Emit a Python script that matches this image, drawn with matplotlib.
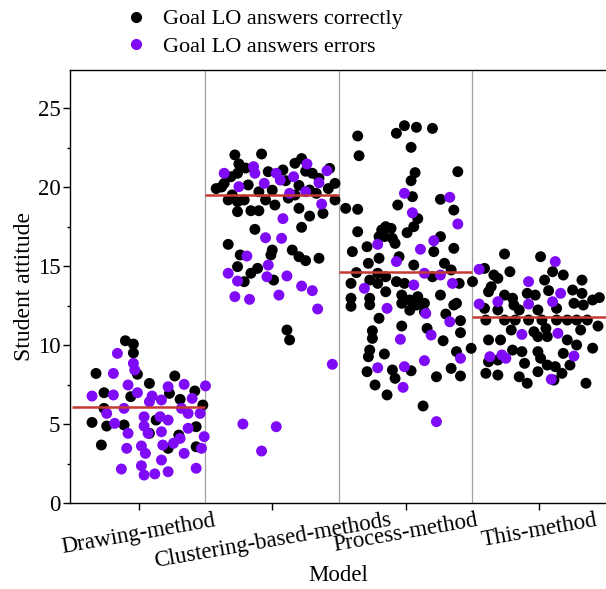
import numpy as np
import matplotlib.pyplot as plt
from matplotlib.lines import Line2D
from matplotlib.ticker import MultipleLocator

plt.rcParams['font.family'] = ['Liberation Serif', 'DejaVu Serif']

models = ["Drawing-method", "Clustering-based-methods", "Process-method", "This-method"]
mean_values = [6.1, 19.5, 14.6, 11.8]

# offsets are the horizontal scatter inside each group
# Drawing-method
draw_ok_x = [-0.10, -0.04, -0.04, -0.32, -0.01, 0.08, 0.27, -0.26, -0.06, 0.23, 0.31, 0.42,
             0.48, -0.26, -0.35, -0.24, -0.11, 0.08, 0.13, -0.28, 0.22, 0.30, 0.43, 0.43]
draw_ok_y = [10.27, 10.06, 9.5, 8.2, 8.15, 7.57, 8.04, 6.98, 6.73, 6.94, 6.56, 7.09,
             6.2, 5.99, 5.1, 4.87, 4.94, 4.41, 5.25, 3.67, 3.46, 4.3, 4.83, 3.56]
draw_err_x = [-0.16, -0.04, -0.03, -0.19, -0.08, -0.01, -0.35, -0.19, 0.10, 0.08, 0.17, 0.22,
              0.34, 0.50, 0.40, 0.32, 0.46, 0.37, -0.11, -0.24, -0.18, 0.04, 0.04, 0.07,
              0.16, 0.22, 0.17, -0.08, -0.09, 0.02, 0.05, 0.18, 0.26, 0.31, 0.37, 0.49,
              0.47, 0.34, -0.13, 0.02, 0.04, 0.12, 0.17, 0.22, 0.43]
draw_err_y = [9.47, 8.84, 8.42, 8.2, 7.47, 6.98, 6.77, 6.84, 6.77, 6.41, 6.52, 7.36,
              7.51, 7.41, 6.62, 5.99, 5.67, 5.67, 5.99, 5.67, 5.04, 5.46, 4.87, 4.41,
              5.46, 5.25, 4.51, 4.41, 3.46, 3.61, 3.14, 3.67, 3.78, 4.09, 4.73, 4.2,
              3.46, 3.14, 2.15, 2.36, 1.77, 1.84, 2.72, 1.98, 2.2]

# Clustering-based-methods
clus_ok_x = [-0.28, -0.08, -0.25, 0.17, 0.22, 0.43, -0.36, -0.31, -0.26, -0.18, -0.03, 0.08,
             0.30, 0.35, 0.47, -0.33, -0.26, -0.21, -0.05, 0.02, 0.17, 0.20, 0.28, 0.47,
             -0.26, -0.16, -0.10, 0.28, 0.38, -0.13, 0.22, -0.33, 0.00, -0.01, 0.15, 0.20,
             0.25, 0.35, -0.24, -0.26, -0.16, -0.11, -0.21, 0.01, 0.11, 0.13,
             -0.38, -0.20, 0.00, 0.10, 0.20, 0.33, 0.42, -0.10, 0.25, -0.30, 0.12, -0.42]
clus_ok_y = [22.03, 22.09, 21.46, 21.5, 21.8, 21.18, 20.23, 20.65, 20.87, 20.13, 20.97, 21.08,
             20.87, 20.55, 20.23, 19.18, 19.07, 19.18, 19.18, 18.86, 19.49, 18.65, 19.81, 19.18,
             18.44, 18.5, 18.5, 18.16, 18.33, 17.32, 17.45, 16.37, 16.01, 15.7, 16.01, 15.59,
             15.34, 15.49, 15.7, 14.96, 14.54, 14.85, 14.01, 14.11, 10.95, 10.32,
             20.0, 21.2, 19.8, 20.4, 20.1, 19.6, 19.9, 19.7, 21.0, 19.5, 19.3, 19.9]
clus_err_x = [-0.36, -0.14, -0.13, -0.06, -0.25, 0.03, 0.06, 0.16, 0.26, 0.41, 0.35, 0.25,
              0.13, 0.37, 0.08, -0.05, 0.07, -0.19, -0.03, -0.33, -0.26, -0.04, 0.11, 0.22,
              0.30, -0.28, -0.17, 0.05, 0.34, 0.45, -0.22, 0.03, -0.08]
clus_err_y = [20.87, 21.29, 20.87, 20.23, 20.02, 20.87, 20.44, 20.65, 21.46, 21.03, 20.27, 19.7,
              19.6, 18.92, 18.0, 16.79, 16.75, 15.63, 15.06, 14.54, 14.05, 14.32, 14.37, 13.73,
              13.44, 13.06, 12.89, 13.16, 12.28, 8.78, 5.0, 4.83, 3.29]

# Process-method
proc_ok_x = [-0.01, 0.08, 0.20, -0.07, -0.36, -0.35, 0.04, 0.39, 0.07, 0.04, 0.05, -0.06,
             -0.45, -0.36, 0.26, 0.36, 0.09, 0.06, 0.01, -0.36, -0.18, -0.15, -0.11, -0.16,
             -0.10, -0.08, -0.20, -0.29, -0.40, 0.21, 0.26, 0.36, -0.20, -0.28, -0.05, 0.06,
             0.29, -0.37, -0.21, -0.15, 0.34, -0.41, -0.27, -0.21, -0.07, -0.01, 0.20, 0.40,
             -0.15, -0.41, -0.27, -0.03, 0.03, 0.09, 0.14, 0.26, 0.38,
             -0.41, -0.27, -0.03, 0.03, 0.08, 0.14, 0.36, -0.20, 0.30, 0.41, -0.03, -0.25,
             -0.25, 0.16, 0.28, 0.41, 0.49, -0.27, -0.28, -0.16, 0.38, -0.29, -0.10, -0.08,
             0.04, 0.34, 0.23, 0.41, -0.23, -0.14, 0.13]
proc_ok_y = [23.88, 23.78, 23.71, 23.4, 23.23, 21.98, 22.51, 20.97, 20.91, 20.4, 19.39, 18.86,
             18.65, 18.59, 19.22, 18.54, 18.0, 17.49, 17.11, 17.17, 17.28, 17.49, 17.38, 16.86,
             16.75, 16.43, 16.86, 16.22, 15.91, 15.91, 16.86, 16.12, 15.49, 15.17, 15.59, 15.06,
             15.17, 14.58, 14.54, 14.32, 14.75, 13.9, 14.11, 13.9, 14.01, 13.9, 14.32, 13.9,
             13.37, 12.96, 12.96, 13.16, 12.85, 13.06, 12.64, 13.16, 12.64,
             12.45, 12.55, 12.64, 12.2, 12.53, 12.1, 12.53, 11.69, 11.96, 11.54, 11.2, 10.9,
             10.42, 11.05, 10.27, 10.78, 9.79, 9.68, 9.26, 9.43, 9.58, 8.31, 8.42, 7.89,
             8.37, 8.52, 7.99, 8.04, 7.47, 6.84, 6.14]
proc_err_x = [-0.01, 0.33, 0.05, 0.39, -0.21, 0.21, 0.11, -0.07, 0.14, 0.26, 0.35, 0.06,
              -0.31, -0.14, 0.15, 0.33, 0.19, -0.04, 0.14, 0.41, -0.21, -0.01, -0.02, 0.23]
proc_err_y = [19.6, 19.35, 18.37, 17.66, 16.37, 16.6, 16.06, 15.28, 14.54, 14.43, 13.9, 13.8,
              13.59, 12.32, 12.0, 11.47, 10.63, 10.36, 9.01, 9.16, 8.56, 8.63, 7.32, 5.15]

# This-method
this_ok_x = [-0.26, 0.01, -0.22, -0.41, -0.34, -0.31, -0.50, 0.10, 0.18, 0.04, 0.32, -0.36,
             -0.38, -0.26, -0.20, -0.09, -0.03, 0.07, 0.25, 0.32, 0.40, -0.41, -0.31, -0.19,
             -0.15, -0.01, 0.13, 0.26, 0.33, -0.40, -0.26, -0.18, -0.08, 0.02, 0.13, 0.21,
             0.28, 0.36, -0.21, -0.04, 0.05, 0.31, -0.38, -0.29, -0.01, 0.06, 0.21, 0.28,
             -0.20, -0.13, -0.01, 0.01, 0.18, -0.38, -0.31, -0.11, 0.06, 0.12, 0.23, -0.40,
             -0.31, -0.15, -0.09, -0.01, 0.17, 0.35, 0.11, 0.44, 0.45, 0.40]
this_ok_y = [15.76, 15.59, 14.64, 14.85, 14.43, 14.22, 14.01, 14.64, 14.43, 14.11, 14.11, 13.69,
             13.37, 13.16, 12.96, 13.27, 13.16, 13.44, 13.48, 13.27, 12.85, 12.32, 12.22, 12.53,
             12.22, 12.22, 12.32, 12.64, 12.53, 11.58, 11.58, 11.58, 11.58, 11.58, 11.58, 11.58,
             11.58, 11.58, 10.95, 10.84, 11.05, 10.95, 10.32, 10.32, 10.53, 10.53, 10.32, 10.0,
             9.68, 9.58, 9.58, 9.16, 9.47, 8.94, 9.05, 8.84, 8.73, 8.63, 8.73, 8.21,
             8.1, 7.99, 7.58, 8.31, 8.21, 7.58, 7.78, 11.2, 13.0, 9.8]
this_err_x = [-0.45, 0.12, -0.08, 0.16, -0.45, -0.31, -0.08, 0.10, -0.13, 0.14, -0.37, -0.28,
              -0.25, 0.26, 0.09]
this_err_y = [14.79, 15.28, 14.01, 13.27, 12.59, 12.74, 12.59, 12.74, 10.67, 10.74, 9.26, 9.37,
              9.16, 9.3, 7.83]

ok_x = [draw_ok_x, clus_ok_x, proc_ok_x, this_ok_x]
ok_y = [draw_ok_y, clus_ok_y, proc_ok_y, this_ok_y]
err_x = [draw_err_x, clus_err_x, proc_err_x, this_err_x]
err_y = [draw_err_y, clus_err_y, proc_err_y, this_err_y]

black = "#000000"
purple = "#7F0AF5"
red = "#C43A32"

fig = plt.figure(figsize=(6.06, 5.89), dpi=100)
ax = fig.add_axes([0.1155, 0.146, 0.8845, 0.735])

for i in range(len(models)):
    ax.scatter(i + np.array(ok_x[i]), ok_y[i], s=62, color=black, edgecolors="none", zorder=3)
    ax.scatter(i + np.array(err_x[i]), err_y[i], s=62, color=purple, edgecolors="none", zorder=4)
    ax.hlines(mean_values[i], i - 0.5, i + 0.5, color=red, lw=1.8, zorder=5)

for b in [0.5, 1.5, 2.5]:
    ax.axvline(b, color="#a0a0a0", lw=0.9, zorder=1)

ax.set_xlim(-0.515, 3.5)
ax.set_ylim(0, 27.4)
ax.set_xticks(range(len(models)))
ax.set_xticklabels(models, rotation=10, fontsize=16.5)
ax.yaxis.set_major_locator(MultipleLocator(5))
ax.yaxis.set_minor_locator(MultipleLocator(2.5))
ax.tick_params(axis="y", which="major", direction="out", length=5, width=1, labelsize=16.5, pad=2)
ax.tick_params(axis="y", which="minor", direction="out", length=2.5, width=1)
ax.tick_params(axis="x", direction="out", length=5, width=1, pad=0)
ax.spines["right"].set_visible(False)
for sp in ["left", "bottom", "top"]:
    ax.spines[sp].set_linewidth(1.0)
ax.set_xlabel("Model", fontsize=16.5, labelpad=-5)
ax.set_ylabel("Student attitude", fontsize=17, labelpad=2)

handles = [Line2D([], [], ls="none", marker="o", ms=7, color=black),
           Line2D([], [], ls="none", marker="o", ms=7, color=purple)]
fig.legend(handles, ["Goal LO answers correctly", "Goal LO answers errors"],
           loc="upper left", bbox_to_anchor=(0.17, 1.019), frameon=False, fontsize=16,
           handletextpad=0.6, labelspacing=0.3, handlelength=1.2)

fig.savefig("out.png", dpi=100)
